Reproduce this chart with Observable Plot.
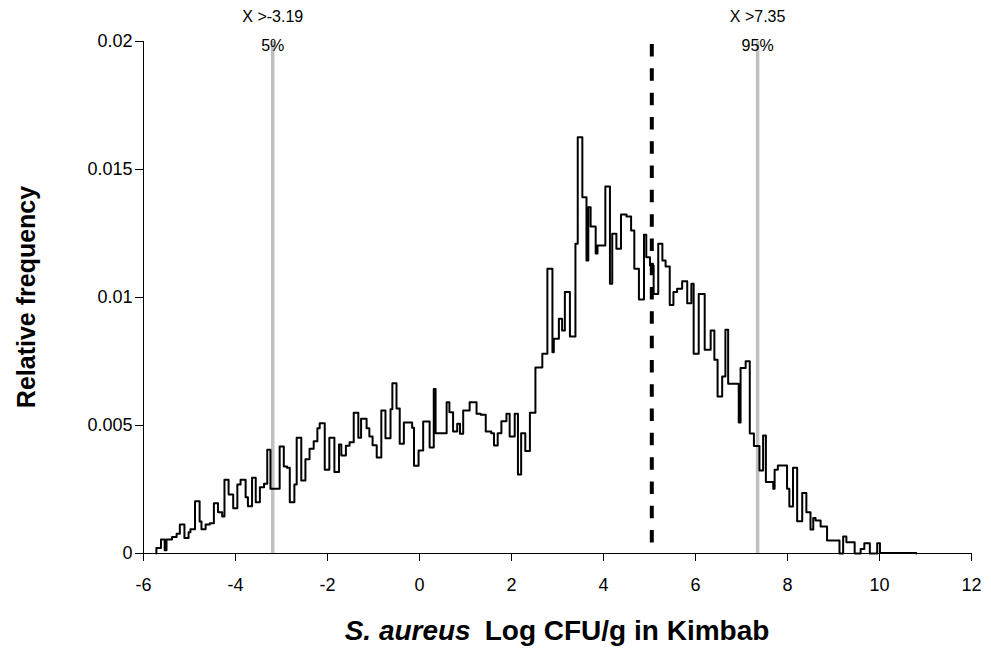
<!DOCTYPE html>
<html>
<head>
<meta charset="utf-8">
<script src="https://cdn.jsdelivr.net/npm/d3@7"></script>
<script src="https://cdn.jsdelivr.net/npm/@observablehq/plot@0.6"></script>
<style>
  html, body { margin: 0; padding: 0; background: #fff; }
  #chart svg { display: block; }
</style>
</head>
<body>
<div id="chart"></div>
<script>
// Left edges of the histogram steps (log CFU/g); the last entry closes the final step.
const binEdges = [
  -5.72, -5.62, -5.54, -5.50, -5.38, -5.28, -5.21, -5.11, -5.02, -4.98,
  -4.88, -4.78, -4.74, -4.65, -4.56, -4.47, -4.38, -4.29, -4.24, -4.15,
  -4.05, -3.96, -3.89, -3.78, -3.73, -3.64, -3.56, -3.47, -3.38, -3.31,
  -3.24, -3.04, -2.95, -2.88, -2.82, -2.72, -2.67, -2.57, -2.48, -2.39,
  -2.30, -2.22, -2.17, -2.06, -1.96, -1.85, -1.75, -1.70, -1.60, -1.52,
  -1.43, -1.33, -1.27, -1.15, -1.09, -1.02, -0.93, -0.83, -0.74, -0.63,
  -0.59, -0.50, -0.43, -0.34, -0.16, -0.12, -0.02, 0.08, 0.22, 0.31,
  0.35, 0.59, 0.65, 0.73, 0.82, 0.88, 0.95, 1.09, 1.24, 1.33,
  1.44, 1.56, 1.62, 1.70, 1.78, 1.89, 1.96, 2.07, 2.14, 2.21,
  2.30, 2.40, 2.52, 2.67, 2.78, 2.89, 2.92, 3.03, 3.10, 3.16,
  3.27, 3.39, 3.44, 3.54, 3.63, 3.67, 3.72, 3.83, 3.87, 4.04,
  4.14, 4.19, 4.28, 4.38, 4.50, 4.60, 4.67, 4.77, 4.88, 4.93,
  5.01, 5.09, 5.19, 5.28, 5.35, 5.44, 5.52, 5.60, 5.71, 5.82,
  5.91, 5.96, 6.07, 6.20, 6.33, 6.41, 6.48, 6.58, 6.65, 6.71,
  6.94, 6.98, 7.09, 7.18, 7.27, 7.39, 7.47, 7.53, 7.69, 7.72,
  7.79, 7.99, 8.04, 8.12, 8.21, 8.32, 8.41, 8.50, 8.56, 8.61,
  8.72, 8.86, 9.13, 9.21, 9.28, 9.46, 9.59, 9.67, 9.79, 9.95,
  10.01, 10.80
];

// Relative frequency of each step.
const relFreq = [
  0.00021, 0.00055, 0.00013, 0.00055, 0.00064, 0.00077, 0.00113, 0.00061, 0.00083, 0.00095,
  0.00204, 0.00125, 0.00095, 0.00113, 0.00118, 0.00196, 0.00161, 0.00145, 0.00288, 0.00230,
  0.00177, 0.00270, 0.00288, 0.00220, 0.00185, 0.00296, 0.00200, 0.00259, 0.00272, 0.00405,
  0.00253, 0.00418, 0.00340, 0.00335, 0.00200, 0.00270, 0.00452, 0.00285, 0.00368, 0.00409,
  0.00438, 0.00489, 0.00509, 0.00327, 0.00452, 0.00318, 0.00426, 0.00383, 0.00421, 0.00435,
  0.00550, 0.00452, 0.00526, 0.00489, 0.00457, 0.00423, 0.00375, 0.00559, 0.00450, 0.00563,
  0.00665, 0.00566, 0.00429, 0.00512, 0.00491, 0.00343, 0.00402, 0.00516, 0.00414, 0.00643,
  0.00470, 0.00591, 0.00552, 0.00477, 0.00507, 0.00468, 0.00559, 0.00591, 0.00546, 0.00542,
  0.00477, 0.00470, 0.00422, 0.00470, 0.00517, 0.00546, 0.00457, 0.00546, 0.00309, 0.00470,
  0.00400, 0.00550, 0.00727, 0.00780, 0.01112, 0.00786, 0.00839, 0.00917, 0.00871, 0.01021,
  0.00848, 0.01210, 0.01626, 0.01392, 0.01145, 0.01353, 0.01277, 0.01172, 0.01203, 0.01434,
  0.01054, 0.01249, 0.01190, 0.01324, 0.01316, 0.01262, 0.01112, 0.00992, 0.01245, 0.01157,
  0.01125, 0.01014, 0.01210, 0.01145, 0.01121, 0.00971, 0.01021, 0.01034, 0.01063, 0.00978,
  0.01054, 0.00780, 0.01014, 0.00796, 0.00871, 0.00757, 0.00613, 0.00691, 0.00874, 0.00663,
  0.00512, 0.00725, 0.00751, 0.00469, 0.00420, 0.00324, 0.00461, 0.00279, 0.00253, 0.00327,
  0.00344, 0.00253, 0.00184, 0.00335, 0.00126, 0.00236, 0.00161, 0.00094, 0.00139, 0.00129,
  0.00105, 0.00051, 0, 0.00066, 0.00044, 0, 0.00018, 0.00040, 0, 0.00040,
  0.00002
];

// 5th and 95th percentile markers.
const percentiles = [5, 95];
const percentileX = [-3.19, 7.35];

// Dashed reference line.
const markerX = 5.05;

const xTicks = [-6, -4, -2, 0, 2, 4, 6, 8, 10, 12];
const yTicks = [0, 0.005, 0.01, 0.015, 0.02];

const font = "'Liberation Sans', Arial, Helvetica, sans-serif";

// Outline of the histogram as a step path, closed down to the baseline at both ends.
const n = relFreq.length;
const outline = [{x: binEdges[0], y: 0}];
relFreq.forEach((v, i) => outline.push({x: binEdges[i], y: v}));
outline.push({x: binEdges[n], y: relFreq[n - 1]});
outline.push({x: binEdges[n], y: 0});

const pct = percentiles.map((p, i) => ({p, x: percentileX[i]}));

const chart = Plot.plot({
  width: 991,
  height: 653,
  marginLeft: 143,
  marginRight: 20,
  marginTop: 41,
  marginBottom: 100,
  style: {fontFamily: font, color: "#000", background: "#fff", overflow: "visible"},
  x: {domain: [-6, 12], label: null},
  y: {domain: [0, 0.02], label: null},
  marks: [
    // percentile guides
    Plot.ruleX(pct, {x: "x", y1: 0, y2: 0.02, stroke: "#c0c0c0", strokeWidth: 3.5}),
    // dashed reference line
    Plot.ruleX([markerX], {x: d => d, y1: 0.01988, y2: 0, stroke: "#000", strokeWidth: 4, strokeDasharray: "12.5,11.8"}),
    // histogram outline
    Plot.line(outline, {x: "x", y: "y", curve: "step-after", stroke: "#000", strokeWidth: 2}),
    // axis lines
    Plot.ruleY([0], {stroke: "#000", strokeWidth: 1}),
    Plot.ruleX([-6], {stroke: "#000", strokeWidth: 1}),
    Plot.axisX(xTicks, {tickSize: 8, tickPadding: 17, fontSize: 18, tickFormat: d => String(d), label: null, stroke: "#000"}),
    Plot.axisY(yTicks, {tickSize: 8, tickPadding: 3, fontSize: 18, tickFormat: d => String(d), label: null, stroke: "#000"}),
    // percentile labels
    Plot.text(pct, {x: "x", frameAnchor: "top", dy: -31, text: d => `X >${d.x}`, fontSize: 16, fill: "#000"}),
    Plot.text(pct, {x: "x", frameAnchor: "top", dy: -2, text: d => `${d.p}%`, fontSize: 16, fill: "#000"})
  ]
});

// Axis titles
const svg = d3.select(chart);
const [xa, xb] = chart.scale("x").range;
const [ya, yb] = chart.scale("y").range;

const xTitle = svg.append("text")
  .attr("x", (xa + xb) / 2)
  .attr("y", 640)
  .attr("text-anchor", "middle")
  .attr("font-family", font)
  .attr("font-size", 28)
  .attr("font-weight", "bold")
  .attr("fill", "#000");
xTitle.append("tspan").attr("font-style", "italic").text("S. aureus");
xTitle.append("tspan").attr("dx", 14).text("Log CFU/g in Kimbab");

svg.append("text")
  .attr("transform", `translate(35,${(ya + yb) / 2}) rotate(-90)`)
  .attr("text-anchor", "middle")
  .attr("font-family", font)
  .attr("font-size", 25)
  .attr("font-weight", "bold")
  .attr("fill", "#000")
  .text("Relative frequency");

document.getElementById("chart").appendChild(chart);
</script>
</body>
</html>
